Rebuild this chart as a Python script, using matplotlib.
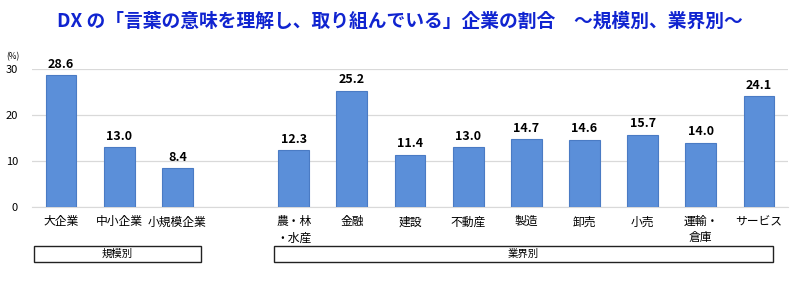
import matplotlib
matplotlib.use("Agg")
import matplotlib.pyplot as plt
import matplotlib.transforms as mtransforms
from matplotlib.patches import Rectangle

plt.rcParams['font.family'] = ['Noto Sans CJK JP', 'DejaVu Sans']

# 規模別 / 業界別 のデータ
size_labels = ['大企業', '中小企業', '小規模企業']
size_values = [28.6, 13.0, 8.4]
industry_labels = ['農・林\n・水産', '金融', '建設', '不動産', '製造', '卸売', '小売', '運輸・\n倉庫', 'サービス']
industry_values = [12.3, 25.2, 11.4, 13.0, 14.7, 14.6, 15.7, 14.0, 24.1]
yticks = [0, 10, 20, 30]

title = 'DX の「言葉の意味を理解し、取り組んでいる」企業の割合　～規模別、業界別～'

bar_color = '#5B8FD9'
edge_color = '#4A7BC4'

labels = size_labels + industry_labels
values = size_values + industry_values
# 規模別と業界別の間を1つ空ける
xs = list(range(len(size_labels))) + [len(size_labels) + 1 + i for i in range(len(industry_labels))]

fig = plt.figure(figsize=(8, 3), dpi=100)
ax = fig.add_axes([0.04, 0.31, 0.945, 0.46])

ax.bar(xs, values, width=0.53, color=bar_color, edgecolor=edge_color, linewidth=0.8, zorder=3)
for x, v in zip(xs, values):
    ax.text(x, v + 1.0, f'{v:.1f}', ha='center', va='bottom', fontsize=9,
            fontweight='bold', clip_on=False)

ax.set_xlim(-0.5, xs[-1] + 0.5)
ax.set_ylim(0, 30)
ax.set_yticks(yticks)
ax.set_yticklabels([str(t) for t in yticks], fontsize=8)
ax.grid(axis='y', color='#d9d9d9', linewidth=0.9, zorder=0)
ax.tick_params(axis='y', length=0, pad=10)
ax.tick_params(axis='x', length=0, pad=6)
ax.set_xticks(xs)
ax.set_xticklabels(labels, fontsize=8.5, linespacing=1.3, va='top')
for s in ['top', 'right', 'left']:
    ax.spines[s].set_visible(False)
ax.spines['bottom'].set_color('#d9d9d9')

fig.text(0.008, 0.81, '(%)', fontsize=6, ha='left', va='center')

fig.text(0.5, 0.93, title, ha='center', va='center', fontsize=13.5,
         fontweight='bold', color='#1024D0')

# グループの枠
trans = mtransforms.blended_transform_factory(ax.transData, ax.transAxes)
groups = [('規模別', -0.47, 2.40), ('業界別', 3.66, 12.24)]
for name, x0, x1 in groups:
    ax.add_patch(Rectangle((x0, -0.40), x1 - x0, 0.12, transform=trans, fill=False,
                           edgecolor='#222222', linewidth=1.0, clip_on=False))
    ax.text((x0 + x1) / 2, -0.34, name, transform=trans, ha='center', va='center', fontsize=7.5)

fig.savefig('out.png', dpi=100, facecolor='white')
